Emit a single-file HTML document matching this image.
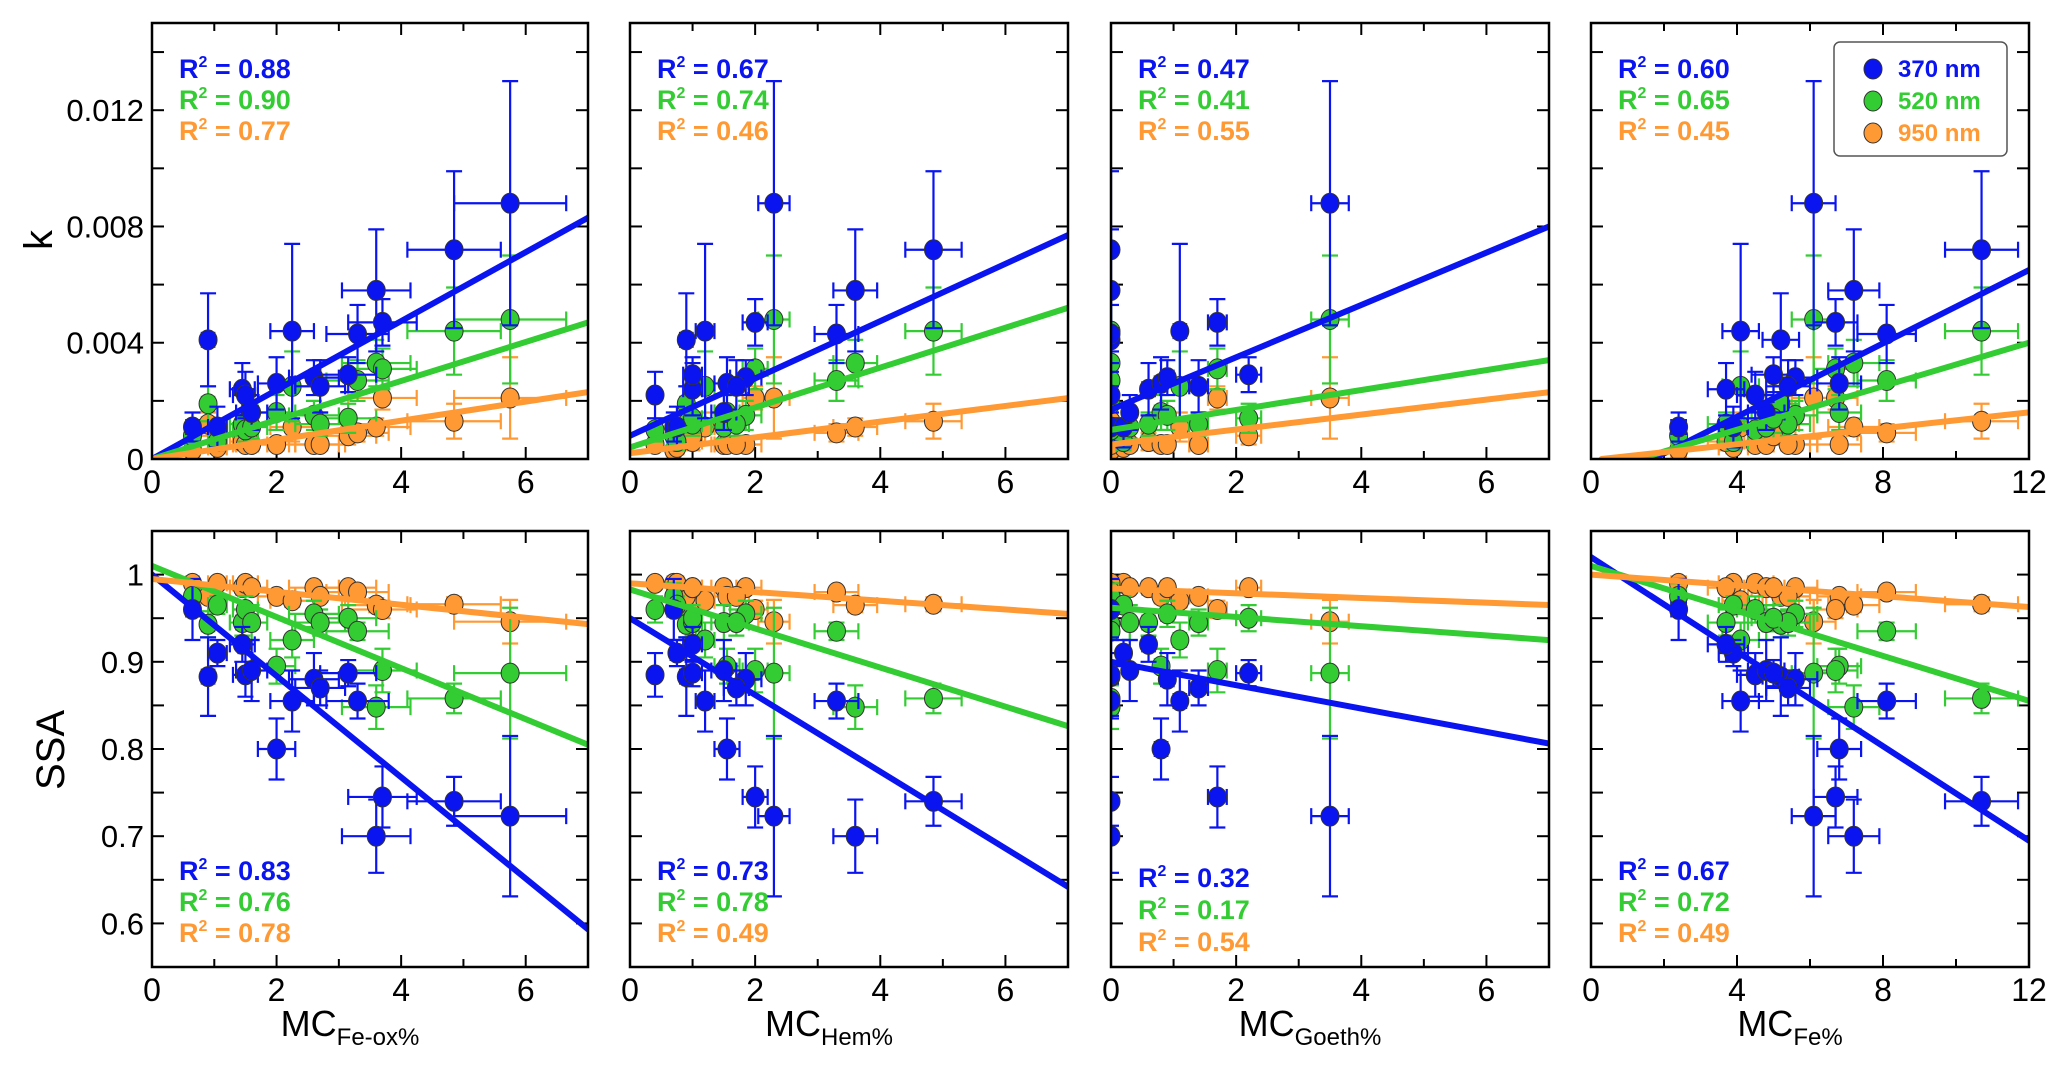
<!DOCTYPE html>
<html><head><meta charset="utf-8"><style>
html,body{margin:0;padding:0;background:#fff;}
svg{display:block;font-family:"Liberation Sans",Arial,sans-serif;}
</style></head><body>
<svg id="chart" width="2068" height="1080" viewBox="0 0 2068 1080" xmlns="http://www.w3.org/2000/svg"></svg>
<script>
// ---- data (16 samples) ----
const xFeox = [0.65,0.9,1.05,1.45,1.5,1.6,2.0,2.25,2.6,2.7,3.15,3.3,3.6,3.7,4.85,5.75];
const xFeoxErr = [0.1,0.1,0.15,0.2,0.2,0.25,0.3,0.35,0.4,0.4,0.45,0.5,0.55,0.55,0.75,0.9];
const xHem = [0.7,0.9,0.75,1.0,0.4,1.5,1.55,1.2,1.85,1.7,1.0,3.3,3.6,2.0,4.85,2.3];
const xHemErr = [0.1,0.1,0.1,0.15,0.05,0.2,0.2,0.15,0.25,0.2,0.15,0.35,0.35,0.2,0.45,0.25];
const xGoeth = [0,0,0.2,0.6,0,0.3,0.8,1.1,0.9,1.4,2.2,0,0,1.7,0,3.5];
const xGoethErr = [0,0,0.05,0.1,0,0.05,0.1,0.1,0.1,0.15,0.2,0,0,0.15,0,0.3];
const xFe = [2.4,5.2,3.9,3.7,4.5,4.8,6.8,4.1,5.6,5.4,5.0,8.1,7.2,6.7,10.7,6.1];
const xFeErr = [0.2,0.5,0.4,0.5,0.5,0.5,0.6,0.5,0.6,0.6,0.6,0.8,0.7,0.6,1.0,0.6];
const k370 = [0.0011,0.0041,0.0011,0.0024,0.0022,0.0016,0.0026,0.0044,0.0028,0.0025,0.0029,0.0043,0.0058,0.0047,0.0072,0.0088];
const k370Err = [0.0005,0.0016,0.0007,0.0009,0.0008,0.0006,0.0009,0.003,0.0006,0.0009,0.0006,0.001,0.0021,0.0008,0.0027,0.0042];
const k520 = [0.0008,0.0019,0.0006,0.0012,0.0010,0.0011,0.0016,0.0025,0.0015,0.0012,0.0014,0.0027,0.0033,0.0031,0.0044,0.0048];
const k520Err = [0.0003,0.0006,0.0003,0.0004,0.0004,0.0004,0.0006,0.0012,0.0005,0.0004,0.0005,0.0007,0.0008,0.0007,0.0015,0.0022];
const k950 = [0.0003,0.0012,0.0004,0.0006,0.0005,0.0005,0.0005,0.0011,0.0005,0.0005,0.0008,0.0009,0.0011,0.0021,0.0013,0.0021];
const k950Err = [0.0002,0.0004,0.0002,0.0003,0.0002,0.0002,0.0002,0.0005,0.0002,0.0002,0.0003,0.0003,0.0003,0.0004,0.0006,0.0014];
const ssa370 = [0.96,0.883,0.91,0.92,0.885,0.89,0.80,0.855,0.88,0.87,0.887,0.855,0.70,0.745,0.74,0.723];
const ssa370Err = [0.035,0.045,0.015,0.02,0.025,0.035,0.035,0.035,0.03,0.02,0.015,0.02,0.042,0.035,0.028,0.092];
const ssa520 = [0.975,0.943,0.965,0.945,0.96,0.945,0.895,0.925,0.955,0.945,0.95,0.935,0.848,0.89,0.858,0.887];
const ssa520Err = [0.015,0.015,0.01,0.015,0.015,0.02,0.02,0.02,0.015,0.015,0.015,0.01,0.025,0.025,0.017,0.075];
const ssa950 = [0.99,0.975,0.99,0.985,0.99,0.985,0.975,0.97,0.985,0.975,0.985,0.98,0.965,0.96,0.966,0.946];
const ssa950Err = [0.005,0.008,0.005,0.006,0.005,0.006,0.006,0.007,0.005,0.006,0.005,0.006,0.008,0.01,0.008,0.025];
// fit lines per panel [370,520,950]
const kSlope = [[0.001186,0.000671,0.000329],[0.000986,0.000686,0.000271],[0.0009,0.000343,0.000257],[0.000631,0.000374,0.000137]];
const kInt = [[0,0,0],[0.0008,0.0004,0.0002],[0.0017,0.001,0.0005],[-0.00107,-0.00049,-0.00004]];
const sSlope = [[-0.0581,-0.0293,-0.0074],[-0.044,-0.0224,-0.005],[-0.0134,-0.0053,-0.0027],[-0.0271,-0.0129,-0.0031]];
const sInt = [[1.0,1.01,0.995],[0.95,0.983,0.99],[0.90,0.962,0.984],[1.02,1.01,1.0]];
const r2k = [["0.88","0.90","0.77"],["0.67","0.74","0.46"],["0.47","0.41","0.55"],["0.60","0.65","0.45"]];
const r2s = [["0.83","0.76","0.78"],["0.73","0.78","0.49"],["0.32","0.17","0.54"],["0.67","0.72","0.49"]];
const xMax = [7,7,7,12];
const xTickLabels = [[0,2,4,6],[0,2,4,6],[0,2,4,6],[0,4,8,12]];
const xMinorStep = [1,1,1,2];
const kTicks = [0,0.004,0.008,0.012];
const ssaTicks = [0.6,0.7,0.8,0.9,1];
const xLabelSub = ["Fe-ox%","Hem%","Goeth%","Fe%"];
const panelNames = ["fe-ox","hem","goeth","fe"];

const COLORS = ["#0a14f0","#33cc33","#ff9933"];
const svg = document.getElementById('chart');
const NS = "http://www.w3.org/2000/svg";
function el(tag, attrs, parent){const e=document.createElementNS(NS,tag);for(const k in attrs)e.setAttribute(k,attrs[k]);(parent||svg).appendChild(e);return e;}

const PX = [[152,588],[630,1068],[1111,1549],[1591,2029]];
const ROWS = [[23,459],[531,967]];
const xs = [xFeox,xHem,xGoeth,xFe], xes=[xFeoxErr,xHemErr,xGoethErr,xFeErr];
const kVals=[k370,k520,k950], kErrs=[k370Err,k520Err,k950Err];
const sVals=[ssa370,ssa520,ssa950], sErrs=[ssa370Err,ssa520Err,ssa950Err];

for(let p=0;p<4;p++){
  for(let r=0;r<2;r++){
    const [L,R]=PX[p],[T,B]=ROWS[r];
    const y0=r===0?0:0.55, y1=r===0?0.015:1.05;
    const sx=v=>L+(v/xMax[p])*(R-L);
    const sy=v=>B-(v-y0)/(y1-y0)*(B-T);
    const g=el('g',{});
    
    
    const cid='c'+p+r;
    const cp=el('clipPath',{id:cid},g);el('rect',{x:L,y:T,width:R-L,height:B-T},cp);
    const tk=el('g',{stroke:'#000','stroke-width':2},g);
    for(let v=0;v<=xMax[p]+1e-9;v+=xMinorStep[p]){const x=sx(v);const len=(xTickLabels[p].includes(v))?12:8;
      el('line',{x1:x,y1:B,x2:x,y2:B-len},tk);el('line',{x1:x,y1:T,x2:x,y2:T+len},tk);}
    const ystep=r===0?0.002:0.05;
    for(let v=y0;v<=y1+1e-9;v+=ystep){const y=sy(v);if(y<T+2||y>B-2)continue;
      el('line',{x1:L,y1:y,x2:L+12,y2:y},tk);el('line',{x1:R,y1:y,x2:R-12,y2:y},tk);}
    for(const v of xTickLabels[p]){const t=el('text',{x:sx(v),y:B+34,'font-size':32,'text-anchor':'middle'},g);t.textContent=v;
      }
    if(p===0){const ticks=r===0?kTicks:ssaTicks;for(const v of ticks){const t=el('text',{x:L-8,y:sy(v)+11,'font-size':31,'text-anchor':'end'},g);t.textContent=(r===0?(v===0?'0':v.toFixed(3)):(v===1?'1':v.toFixed(1)));
      }}
    const dg=el('g',{'clip-path':'url(#'+cid+')'},g);
    const vals=r===0?kVals:sVals, errs=r===0?kErrs:sErrs;
    for(let s=2;s>=0;s--){
      const eg=el('g',{stroke:COLORS[s],'stroke-width':2.2,fill:'none'},dg);
      for(let i=0;i<xs[p].length;i++){
        const x=sx(xs[p][i]),y=sy(vals[s][i]);const xe=xes[p][i],ye=errs[s][i];
        const ya=sy(vals[s][i]+ye),yb=sy(vals[s][i]-ye);
        el('line',{x1:x,y1:ya,x2:x,y2:yb},eg);el('line',{x1:x-8,y1:ya,x2:x+8,y2:ya},eg);el('line',{x1:x-8,y1:yb,x2:x+8,y2:yb},eg);
        if(xe>0){const xa=sx(xs[p][i]-xe),xb=sx(xs[p][i]+xe);
          el('line',{x1:xa,y1:y,x2:xb,y2:y},eg);el('line',{x1:xa,y1:y-8,x2:xa,y2:y+8},eg);el('line',{x1:xb,y1:y-8,x2:xb,y2:y+8},eg);}
        const c=el('ellipse',{cx:x,cy:y,rx:9,ry:10,fill:COLORS[s],stroke:'#333','stroke-width':1},dg);
        
        
      }
    }
    for(let s=0;s<3;s++){
      const m=r===0?kSlope[p][s]:sSlope[p][s], b=r===0?kInt[p][s]:sInt[p][s];
      let xa=0; if(r===0&&b<0) xa=-b/m;
      const ln=el('line',{x1:sx(xa),y1:sy(m*xa+b),x2:sx(xMax[p]),y2:sy(m*xMax[p]+b),stroke:COLORS[s],'stroke-width':6,'stroke-linecap':'round'},dg);
      
      
    }
    el('rect',{x:L,y:T,width:R-L,height:B-T,fill:'none',stroke:'#000','stroke-width':2.5},g);
    const rr=r===0?r2k[p]:r2s[p];
    const ty=r===0?[69,100,131]:(p===2?[878,910,942]:[871,902,933]);
    for(let s=0;s<3;s++){const t=el('text',{x:L+27,y:ty[s]+9,'font-size':27,'font-weight':'bold',fill:COLORS[s]},g);
      t.innerHTML='R<tspan font-size="16" dy="-11">2</tspan><tspan dy="11"> = '+rr[s]+'</tspan>';
      }
  }
  const xl=el('text',{x:(PX[p][0]+PX[p][1])/2-20,y:1036,'font-size':36,'text-anchor':'middle'});
  xl.innerHTML='MC<tspan font-size="24" dy="9">'+xLabelSub[p]+'</tspan>';
  
  
}
const yk=el('text',{x:0,y:0,'font-size':40,'text-anchor':'middle',transform:'translate(52,240) rotate(-90)'});yk.textContent='k';

const ys=el('text',{x:0,y:0,'font-size':40,'text-anchor':'middle',transform:'translate(64,750) rotate(-90)'});ys.textContent='SSA';

const lg=el('g',{});

el('rect',{x:1834,y:42,width:173,height:114,rx:6,fill:'#fff',stroke:'#555','stroke-width':1.5},lg);
const lbl=['370 nm','520 nm','950 nm'];
for(let s=0;s<3;s++){const y=69+s*32;
  const c=el('ellipse',{cx:1873,cy:y,rx:9,ry:10,fill:COLORS[s],stroke:'#333','stroke-width':1},lg);
  
  const t=el('text',{x:1898,y:y+8,'font-size':24,'font-weight':'bold',fill:COLORS[s]},lg);t.textContent=lbl[s];
  }
</script>
</body></html>
